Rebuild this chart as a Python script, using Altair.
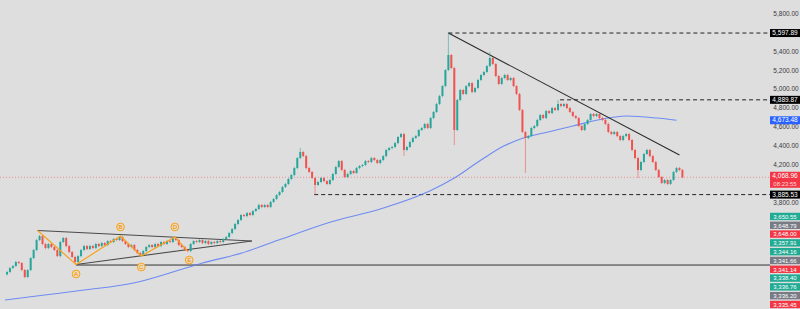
import altair as alt
import pandas as pd

# ---------------- data ----------------
closes = [
    3065, 3107, 3128, 3171, 3160, 3086, 3012, 3086, 3213, 3298,
    3404, 3446, 3362, 3319, 3362, 3330, 3298, 3234, 3383, 3425,
    3340, 3277, 3224, 3171, 3234, 3298, 3340, 3309, 3340, 3319,
    3362, 3340, 3372, 3351, 3393, 3383, 3415, 3404, 3436, 3393,
    3362, 3330, 3351, 3298, 3266, 3245, 3287, 3330, 3351, 3330,
    3362, 3340, 3383, 3362, 3393, 3383, 3425, 3404, 3351, 3330,
    3298, 3287, 3362, 3393, 3383, 3404, 3372, 3393, 3362, 3383,
    3372, 3393, 3383, 3415, 3436, 3478, 3521, 3574, 3616, 3669,
    3658, 3690, 3669, 3711, 3733, 3775, 3754, 3775, 3754, 3807,
    3839, 3881, 3913, 3966, 3998, 4051, 4093, 4167, 4273, 4337,
    4294, 4167, 4125, 4061, 3987, 4019, 4061, 4029, 3998, 4040,
    4104, 4178, 4241, 4146, 4072, 4104, 4135, 4114, 4167, 4188,
    4199, 4241, 4231, 4273, 4252, 4220, 4252, 4294, 4358, 4379,
    4390, 4432, 4496, 4528, 4358, 4390, 4443, 4485, 4506, 4570,
    4591, 4634, 4591, 4697, 4761, 4846, 4930, 5036, 5206, 5365,
    5227, 4570, 4888, 4994, 4952, 5036, 5068, 4973, 5015, 5100,
    5153, 5185, 5248, 5333, 5270, 5142, 5058, 5121, 5153, 5100,
    5121, 5036, 4952, 4782, 4549, 4485, 4506, 4591, 4612, 4676,
    4729, 4697, 4771, 4750, 4803, 4782, 4846, 4824, 4846, 4803,
    4761, 4718, 4697, 4612, 4570, 4634, 4676, 4740, 4718, 4740,
    4697, 4676, 4634, 4549, 4528, 4549, 4506, 4464, 4506, 4528,
    4464, 4358, 4273, 4146, 4231, 4316, 4358, 4294, 4231, 4146,
    4072, 4008, 4040, 3998, 4040, 4125, 4167, 4146, 4068.96,
]
first_open = 3040.0
high_marks = {149: 5597.89, 163: 5397, 186: 4889.87, 99: 4380}
low_marks = {23: 3145, 151: 4411, 175: 4115, 104: 3885.53, 213: 4061, 134: 4294}
wick_pad = 12.0

ma_index = [-0.67, 12.7, 26, 42.7, 56, 66, 79.3, 91.7, 109.3, 126, 142.7, 151,
            160, 167.7, 174.3, 182.7, 191, 199.3, 209.3, 219.3, 226]
ma_value = [2768, 2821, 2874, 2948, 3065, 3160, 3266, 3404, 3595, 3733, 3923, 4061,
            4252, 4400, 4485, 4549, 4612, 4676, 4718, 4697, 4673.48]

level_prices = [5597.89, 4889.87, 3885.53]
level_starts = [149, 186.7, 103.7]
last_price = 4068.96
support_price = 3139
support_start = 23.3

seg_x1 = [10.33, 23.33, 149]
seg_y1 = [3505, 3145, 5597.89]
seg_x2 = [82.67, 82.67, 227]
seg_y2 = [3393, 3393, 4305]
seg_color = ["#4a4a4a", "#4a4a4a", "#2b2b2b"]

zig_x = [10.33, 23.33, 38.33, 45.33, 56.67, 61]
zig_y = [3505, 3145, 3446, 3234, 3436, 3287]

pt_letters = ["A", "B", "C", "D", "E"]
pt_x = [23.33, 38.33, 45.33, 56.67, 61.5]
pt_y = [3044, 3542, 3118, 3542, 3192]

tick_values = [3800, 4200, 4400, 4600, 4800, 5000, 5200, 5400, 5800]

box_labels = ["5,597.89", "4,889.87", "4,673.48", "3,885.53"]
box_prices = [5597.89, 4889.87, 4673.48, 3885.53]
box_colors = ["#000000", "#000000", "#2962ff", "#000000"]

stack_labels = ["3,650.55", "3,648.79", "3,648.00", "3,357.91", "3,344.16", "3,341.66",
                "3,341.14", "3,338.40", "3,336.76", "3,336.20", "3,335.45"]
stack_colors = ["#22ab94", "#787b86", "#f23645", "#22ab94", "#22ab94", "#787b86",
                "#f23645", "#22ab94", "#22ab94", "#787b86", "#f23645"]

# ---------------- layout ----------------
W, H = 800, 309
Y_MIN, Y_MAX = 2673.0, 5948.0
PPP = (Y_MAX - Y_MIN) / H
X_MIN = -2 / 3
X_MAX = X_MIN + W / 3
xs = alt.Scale(domain=[X_MIN, X_MAX], nice=False, zero=False)
ys = alt.Scale(domain=[Y_MIN, Y_MAX], nice=False, zero=False)
FONT = "Liberation Sans"
UP, DOWN = "#26a69a", "#ef5350"

opens = [first_open] + closes[:-1]
rows = []
for i, (o, c) in enumerate(zip(opens, closes)):
    rows.append(dict(i=i, open=o, close=c,
                     high=high_marks.get(i, max(o, c) + wick_pad),
                     low=low_marks.get(i, min(o, c) - wick_pad),
                     dir="up" if c >= o else "down"))
candles = pd.DataFrame(rows)
col = alt.Color("dir:N", scale=alt.Scale(domain=["up", "down"], range=[UP, DOWN]), legend=None)

X = lambda f: alt.X(f, scale=xs, axis=None)
Y = lambda f: alt.Y(f, scale=ys, axis=None)

wicks = alt.Chart(candles).mark_rule(strokeWidth=1, opacity=0.55).encode(
    x=X("i:Q"), y=Y("low:Q"), y2="high:Q", color=col)
bodies = alt.Chart(candles).mark_bar(size=2).encode(
    x=X("i:Q"), y=Y("open:Q"), y2="close:Q", color=col)

last_line = alt.Chart(pd.DataFrame({"p": [last_price]})).mark_rule(
    color="#ee8f8f", strokeDash=[1, 2], strokeWidth=1).encode(
    x=alt.value(0), x2=alt.value(770), y=Y("p:Q"))

levels = alt.Chart(pd.DataFrame({"s": level_starts, "p": level_prices})).mark_rule(
    color="#222222", strokeDash=[4, 3], strokeWidth=1).encode(
    x=X("s:Q"), x2=alt.value(770), y=Y("p:Q"))

support = alt.Chart(pd.DataFrame({"s": [support_start], "p": [support_price]})).mark_rule(
    color="#333333", strokeWidth=1).encode(x=X("s:Q"), x2=alt.value(770), y=Y("p:Q"))

ma = alt.Chart(pd.DataFrame({"i": ma_index, "v": ma_value})).mark_line(
    color="#5a7cf6", strokeWidth=1.1, opacity=0.85, interpolate="monotone").encode(
    x=X("i:Q"), y=Y("v:Q"))

segs = alt.Chart(pd.DataFrame({"x1": seg_x1, "y1": seg_y1, "x2": seg_x2, "y2": seg_y2,
                               "c": seg_color})).mark_rule(strokeWidth=1.1).encode(
    x=X("x1:Q"), y=Y("y1:Q"), x2="x2:Q", y2="y2:Q", color=alt.Color("c:N", scale=None))

zig = alt.Chart(pd.DataFrame({"i": zig_x, "v": zig_y, "o": list(range(len(zig_x)))})).mark_line(
    color="#f7a21b", strokeWidth=1.2).encode(x=X("i:Q"), y=Y("v:Q"), order="o:Q")

pts_df = pd.DataFrame({"i": pt_x, "v": pt_y, "t": pt_letters})
pts = alt.Chart(pts_df).mark_point(shape="circle", size=60, filled=True, fill="#ecd9b6",
                                   stroke="#f7a21b", strokeWidth=1, opacity=1).encode(
    x=X("i:Q"), y=Y("v:Q"))
pts_txt = alt.Chart(pts_df).mark_text(font=FONT, fontSize=6, color="#f08c00",
                                      baseline="middle", align="center").encode(
    x=X("i:Q"), y=Y("v:Q"), text="t:N")

ticks = alt.Chart(pd.DataFrame({"p": tick_values,
                                "t": [f"{v:,.2f}" for v in tick_values]})).mark_text(
    font=FONT, fontSize=6.5, color="#3a3a3a", align="center", baseline="middle").encode(
    x=alt.value(786), y=Y("p:Q"), text="t:N")

half = 4.0 * PPP
bdf = pd.DataFrame({"t": box_labels, "p": box_prices, "c": box_colors})
bdf["top"] = bdf["p"] + half
bdf["bot"] = bdf["p"] - half
slot = 8.8 * PPP
sdf = pd.DataFrame({"t": stack_labels, "c": stack_colors})
sdf["p"] = [3650.55 - k * slot for k in range(len(stack_labels))]
sdf["top"] = sdf["p"] + half
sdf["bot"] = sdf["p"] - half + 0.6 * PPP

box_rect = alt.Chart(pd.concat([bdf, sdf], ignore_index=True)).mark_rect().encode(
    x=alt.value(770), x2=alt.value(800), y=Y("top:Q"), y2="bot:Q",
    color=alt.Color("c:N", scale=None))
box_txt = alt.Chart(bdf).mark_text(font=FONT, fontSize=6.5, color="white",
                                   align="center", baseline="middle").encode(
    x=alt.value(785), y=Y("p:Q"), text="t:N")
stack_txt = alt.Chart(sdf).mark_text(font=FONT, fontSize=6, color="white",
                                     align="center", baseline="middle").encode(
    x=alt.value(785), y=Y("p:Q"), text="t:N")

rdf = pd.DataFrame({"top": [last_price + 5.5 * PPP], "bot": [last_price - 10.5 * PPP],
                    "p1": [last_price + 1.5 * PPP], "p2": [last_price - 6.5 * PPP],
                    "t1": [f"{last_price:,.2f}"], "t2": ["08:23:55"]})
red_rect = alt.Chart(rdf).mark_rect(color="#f23645").encode(
    x=alt.value(770), x2=alt.value(800), y=Y("top:Q"), y2="bot:Q")
red_t1 = alt.Chart(rdf).mark_text(font=FONT, fontSize=6.5, color="white",
                                  align="center", baseline="middle").encode(
    x=alt.value(785), y=Y("p1:Q"), text="t1:N")
red_t2 = alt.Chart(rdf).mark_text(font=FONT, fontSize=6, color="#ffd6d6",
                                  align="center", baseline="middle").encode(
    x=alt.value(785), y=Y("p2:Q"), text="t2:N")

chart = alt.layer(
    last_line, levels, support, ma, segs, wicks, bodies, zig, pts, pts_txt,
    ticks, box_rect, box_txt, stack_txt, red_rect, red_t1, red_t2,
).properties(
    width=W, height=H, padding=0, autosize=alt.AutoSizeParams(type="none"),
    background="#dedede",
).configure_view(strokeWidth=0, fill="#dedede")

chart.save("out.html", embed_options={"renderer": "svg", "actions": False})
